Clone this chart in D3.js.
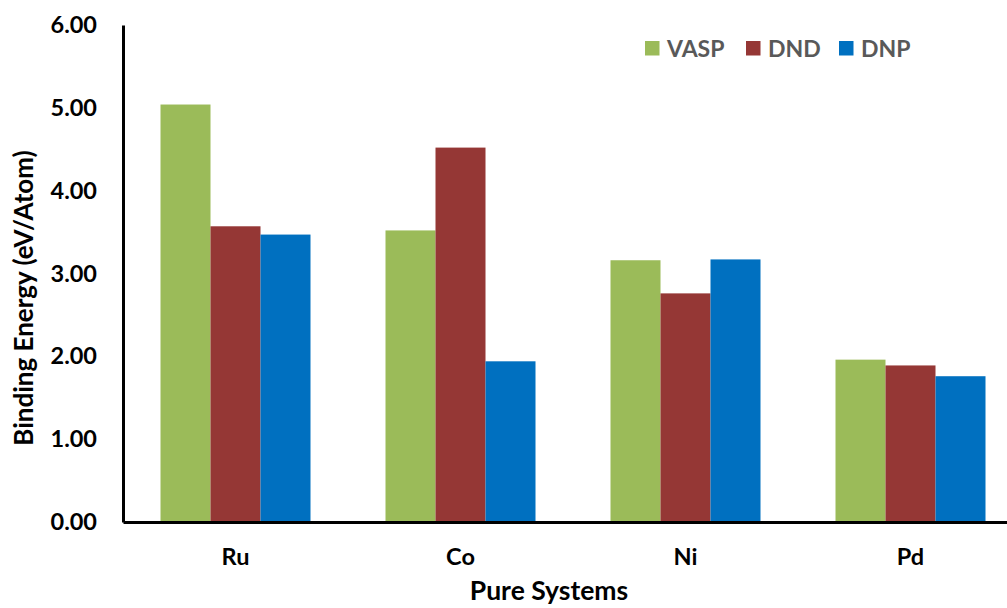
<!DOCTYPE html>
<html>
<head>
<meta charset="utf-8">
<script src="https://cdn.jsdelivr.net/npm/d3@7"></script>
<style>
  html, body { margin: 0; padding: 0; background: #fff; }
  svg { display: block; }
  text { font-family: Lato, "Open Sans", sans-serif; font-weight: bold; }
</style>
</head>
<body>
<svg id="chart" width="1007" height="608"></svg>
<script>
const categories = ["Ru", "Co", "Ni", "Pd"];
const seriesNames = ["VASP", "DND", "DNP"];
const vasp = [5.04, 3.52, 3.16, 1.96];
const dnd  = [3.57, 4.52, 2.76, 1.89];
const dnp  = [3.47, 1.94, 3.17, 1.76];
const yTicks = [0, 1, 2, 3, 4, 5, 6];
const colors = ["#9BBB59", "#953735", "#0070C0"];

const seriesValues = [vasp, dnd, dnp];
const rows = categories.map((c, i) => ({ cat: c, vals: seriesNames.map((s, j) => ({ s, v: seriesValues[j][i], j })) }));

const svg = d3.select("#chart");
const x0 = 123, y0 = 522, yTop = 25;

const x = d3.scaleBand().domain(categories).range([x0, x0 + 900]).paddingInner(1/3).paddingOuter(1/6);
const xs = d3.scaleBand().domain(seriesNames).range([0, x.bandwidth()]);
const y = d3.scaleLinear().domain([0, 6]).range([y0, yTop]);

// bars
svg.append("g").selectAll("g").data(rows).join("g")
  .attr("transform", d => `translate(${x(d.cat)},0)`)
  .selectAll("rect").data(d => d.vals).join("rect")
  .attr("x", d => xs(d.s))
  .attr("width", xs.bandwidth())
  .attr("y", d => y(d.v))
  .attr("height", d => y(0) - y(d.v))
  .attr("fill", d => colors[d.j]);

// y axis
const yAxis = svg.append("g").attr("transform", `translate(${x0},0)`)
  .call(d3.axisLeft(y).tickValues(yTicks).tickFormat(d3.format(".2f")).tickSize(0).tickPadding(26));
yAxis.select(".domain").attr("stroke", "#000").attr("stroke-width", 3);
yAxis.selectAll("text").attr("font-size", 23.5).attr("fill", "#000")
  .attr("font-family", "Lato, sans-serif").attr("font-weight", "bold");

// x axis
const xAxis = svg.append("g").attr("transform", `translate(0,${y0})`)
  .call(d3.axisBottom(x).tickSize(0).tickPadding(26));
xAxis.select(".domain").attr("stroke", "#000").attr("stroke-width", 3);
xAxis.selectAll("text").attr("font-size", 23.5).attr("fill", "#000")
  .attr("font-family", "Lato, sans-serif").attr("font-weight", "bold");

// axis titles
svg.append("text")
  .attr("transform", "translate(33,298) rotate(-90)")
  .attr("text-anchor", "middle")
  .attr("font-size", 26).attr("fill", "#000")
  .text("Binding Energy (eV/Atom)");

svg.append("text")
  .attr("x", 549).attr("y", 600)
  .attr("text-anchor", "middle")
  .attr("font-size", 26.5).attr("fill", "#000")
  .text("Pure Systems");

// legend
const legendX = [645, 746, 839];
const legend = svg.append("g").selectAll("g").data(seriesNames).join("g")
  .attr("transform", (d, i) => `translate(${legendX[i]},41)`);
legend.append("rect").attr("width", 14.5).attr("height", 14.5).attr("fill", (d, i) => colors[i]);
legend.append("text").attr("x", 22).attr("y", 15.5)
  .attr("font-size", 23).attr("fill", "#595959").text(d => d);
</script>
</body>
</html>
